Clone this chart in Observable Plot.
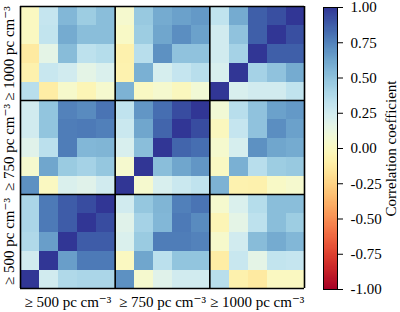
<!DOCTYPE html>
<html>
<head>
<meta charset="utf-8">
<script src="https://cdn.jsdelivr.net/npm/d3@7"></script>
<script src="https://cdn.jsdelivr.net/npm/@observablehq/plot@0.6"></script>
<style>
  html, body { margin: 0; padding: 0; background: white; }
  #chart { position: relative; width: 400px; height: 312px; }
  #chart svg { position: absolute; top: 0; }
  svg image { image-rendering: pixelated; }
</style>
</head>
<body>
<div id="chart"></div>
<script>
// Density thresholds (blocks of 5 variables each), bottom->top rows and left->right columns
const densityLabels = ["≥ 500 pc cm⁻³", "≥ 750 pc cm⁻³", "≥ 1000 pc cm⁻³"];
const blockCenters = [2.5, 7.5, 12.5];
const blockBounds = [0, 5, 10, 15];

// Correlation matrix, row index = variable (0 = bottom), column index = variable (0 = left)
const corr00 = [1.00, 0.25, 0.38, 0.40, 0.40, 0.70, 0.05, 0.18, 0.25, 0.25, 0.35, -0.08, -0.13, 0.00, 0.00];
const corr01 = [0.25, 1.00, 0.65, 0.78, 0.78, 0.00, 0.62, 0.34, 0.49, 0.49, -0.11, 0.29, 0.16, 0.31, 0.30];
const corr02 = [0.38, 0.65, 1.00, 0.88, 0.88, 0.21, 0.46, 0.77, 0.77, 0.75, 0.04, 0.25, 0.53, 0.60, 0.55];
const corr03 = [0.40, 0.78, 0.88, 1.00, 0.93, 0.18, 0.42, 0.55, 0.78, 0.72, -0.04, 0.16, 0.33, 0.52, 0.45];
const corr04 = [0.40, 0.78, 0.88, 0.93, 1.00, 0.25, 0.48, 0.56, 0.76, 0.80, 0.05, 0.21, 0.36, 0.52, 0.52];
const corr05 = [0.70, 0.00, 0.21, 0.18, 0.25, 1.00, 0.05, 0.22, 0.28, 0.32, 0.57, -0.07, -0.08, 0.02, 0.05];
const corr06 = [0.05, 0.62, 0.46, 0.42, 0.48, 0.05, 1.00, 0.52, 0.62, 0.68, 0.01, 0.58, 0.35, 0.45, 0.47];
const corr07 = [0.18, 0.34, 0.77, 0.55, 0.56, 0.22, 0.52, 1.00, 0.85, 0.82, 0.05, 0.23, 0.70, 0.62, 0.60];
const corr08 = [0.25, 0.49, 0.77, 0.78, 0.76, 0.28, 0.62, 0.85, 1.00, 0.93, -0.01, 0.30, 0.50, 0.71, 0.64];
const corr09 = [0.25, 0.49, 0.75, 0.72, 0.80, 0.32, 0.68, 0.82, 0.93, 1.00, 0.08, 0.35, 0.50, 0.64, 0.67];
const corr10 = [0.35, -0.11, 0.04, -0.04, 0.05, 0.57, 0.01, 0.05, -0.01, 0.08, 1.00, 0.22, 0.25, 0.25, 0.32];
const corr11 = [-0.08, 0.29, 0.25, 0.16, 0.21, -0.07, 0.58, 0.23, 0.30, 0.35, 0.22, 1.00, 0.42, 0.50, 0.60];
const corr12 = [-0.13, 0.16, 0.53, 0.33, 0.36, -0.08, 0.35, 0.70, 0.50, 0.50, 0.25, 0.42, 1.00, 0.87, 0.87];
const corr13 = [0.00, 0.31, 0.60, 0.52, 0.52, 0.02, 0.45, 0.62, 0.71, 0.64, 0.25, 0.50, 0.87, 1.00, 0.92];
const corr14 = [0.00, 0.30, 0.55, 0.45, 0.52, 0.05, 0.47, 0.60, 0.64, 0.67, 0.32, 0.60, 0.87, 0.92, 1.00];
const corrRows = [corr00, corr01, corr02, corr03, corr04, corr05, corr06, corr07,
                  corr08, corr09, corr10, corr11, corr12, corr13, corr14];

const cbTicks = [-1, -0.75, -0.5, -0.25, 0, 0.25, 0.5, 0.75, 1];
const cbLabel = "Correlation coefficient";

const font = "'Liberation Serif', 'Times New Roman', 'DejaVu Serif', serif";
const colorOpts = {type: "linear", scheme: "RdYlBu", domain: [-1, 1]};

const cells = corrRows.flatMap((row, r) => row.map((v, c) => ({cx: c + 0.5, cy: r + 0.5, v})));

const main = Plot.plot({
  width: 400, height: 312,
  marginLeft: 20, marginRight: 96, marginTop: 6, marginBottom: 24,
  style: {fontFamily: font, fontSize: "15px", background: "transparent", color: "black"},
  x: {domain: [0, 15], ticks: blockCenters, tickFormat: d => densityLabels[blockCenters.indexOf(d)],
      tickSize: 0, tickPadding: 8, label: null},
  y: {domain: [0, 15], axis: null},
  color: colorOpts,
  marks: [
    Plot.raster(cells, {x: "cx", y: "cy", fill: "v", x1: 0, x2: 15, y1: 0, y2: 15,
                        width: 15, height: 15, imageRendering: "pixelated"}),
    Plot.ruleX(blockBounds, {stroke: "black", strokeWidth: 1.6}),
    Plot.ruleY(blockBounds, {stroke: "black", strokeWidth: 1.6}),
    Plot.text(blockCenters, {y: d => d, text: d => densityLabels[blockCenters.indexOf(d)],
                             frameAnchor: "left", dx: -11, rotate: -90, fontSize: 15,
                             textAnchor: "middle", lineAnchor: "middle", fill: "black"})
  ]
});

const bar = Plot.plot({
  width: 100, height: 312,
  marginLeft: 23, marginRight: 63, marginTop: 7, marginBottom: 23,
  style: {fontFamily: font, fontSize: "15px", background: "transparent", color: "black"},
  x: {domain: [0, 1], axis: null},
  y: {domain: [-1, 1], axis: "right", ticks: cbTicks, tickFormat: d => d3.format(".2f")(d).replace("−", "-"),
      tickSize: 5, tickPadding: 8, label: null},
  color: colorOpts,
  marks: [
    Plot.raster({fill: (x, y) => y, x1: 0, x2: 1, y1: -1, y2: 1, width: 1, height: 256,
                 imageRendering: "pixelated"}),
    Plot.frame({stroke: "black", strokeWidth: 1}),
    Plot.text([cbLabel], {text: d => d, frameAnchor: "right", dx: 54, rotate: -90,
                          fontSize: 15, textAnchor: "middle", lineAnchor: "middle", fill: "black"})
  ]
});
bar.style.left = "300px";
main.style.left = "0px";

const chart = document.getElementById("chart");
chart.append(main, bar);
</script>
</body>
</html>
